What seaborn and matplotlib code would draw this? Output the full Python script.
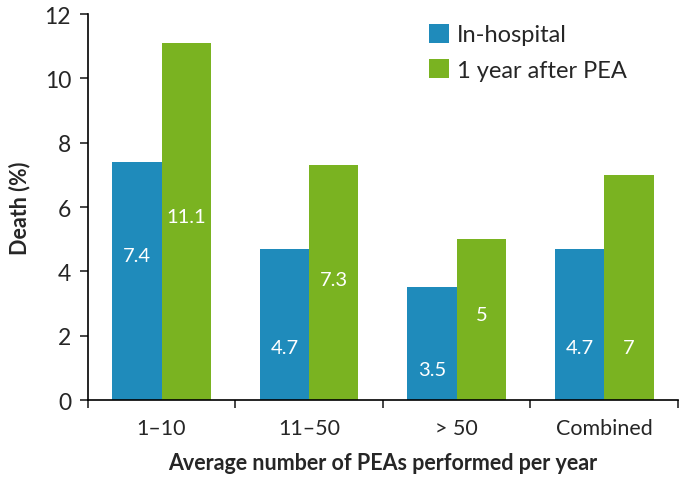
import numpy as np
import pandas as pd
import matplotlib
matplotlib.use("Agg")
import matplotlib.pyplot as plt
import seaborn as sns

# data
categories = ["1\u201310", "11\u201350", "> 50", "Combined"]
in_hospital = [7.4, 4.7, 3.5, 4.7]
one_year = [11.1, 7.3, 5.0, 7.0]
in_hospital_text = ["7.4", "4.7", "3.5", "4.7"]
one_year_text = ["11.1", "7.3", "5", "7"]
# heights where the value labels sit inside the bars
in_hospital_label_y = [4.5, 1.65, 0.95, 1.65]
one_year_label_y = [5.7, 3.75, 2.65, 1.65]

series_names = ["In-hospital", "1 year after PEA"]
colors = ["#1f8bbb", "#7ab321"]

sns.set_style("white")
plt.rcParams["font.family"] = ["Lato", "DejaVu Sans"]

df = pd.DataFrame({
    "category": categories * 2,
    "value": in_hospital + one_year,
    "series": [series_names[0]] * 4 + [series_names[1]] * 4,
})

fig = plt.figure(figsize=(6.8, 4.85), dpi=100)
ax = fig.add_axes([0.129, 0.173, 0.868, 0.796])

sns.barplot(data=df, x="category", y="value", hue="series", hue_order=series_names,
            palette=colors, width=0.67, gap=0, saturation=1, ax=ax, linewidth=0)

# value labels inside bars
offset = 0.67 / 4
for i in range(len(categories)):
    ax.text(i - offset, in_hospital_label_y[i], in_hospital_text[i], color="white",
            ha="center", va="center", fontsize=14.5)
    ax.text(i + offset, one_year_label_y[i], one_year_text[i], color="white",
            ha="center", va="center", fontsize=14.5)

ax.set_xlim(-0.5, 3.5)
ax.set_ylim(0, 12)
ax.set_yticks(np.arange(0, 13, 2))
ax.tick_params(axis="y", labelsize=16.5, direction="out", length=6, width=1.2, left=True, pad=6)

# category labels as minor ticks, tick marks at group boundaries
ax.set_xticks(np.arange(-0.5, 4, 1))
ax.set_xticklabels([])
ax.set_xticks(range(len(categories)), minor=True)
ax.set_xticklabels(categories, minor=True)
ax.tick_params(axis="x", which="major", direction="out", length=6, width=1.2, bottom=True)
ax.tick_params(axis="x", which="minor", length=0, labelsize=15.5, pad=13)

for side in ["top", "right"]:
    ax.spines[side].set_visible(False)
for side in ["left", "bottom"]:
    ax.spines[side].set_color("black")
    ax.spines[side].set_linewidth(1.2)

ax.set_xlabel("Average number of PEAs performed per year", fontsize=15.5, fontweight="bold", labelpad=10)
ax.set_ylabel("Death (%)", fontsize=15.5, fontweight="bold", labelpad=10)

leg = ax.legend(loc="upper left", bbox_to_anchor=(0.578, 0.975), frameon=False, fontsize=17,
                borderaxespad=0, borderpad=0,
                handlelength=0.85, handleheight=0.85, handletextpad=0.35, labelspacing=0.6)

fig.savefig("out.png", dpi=100)
